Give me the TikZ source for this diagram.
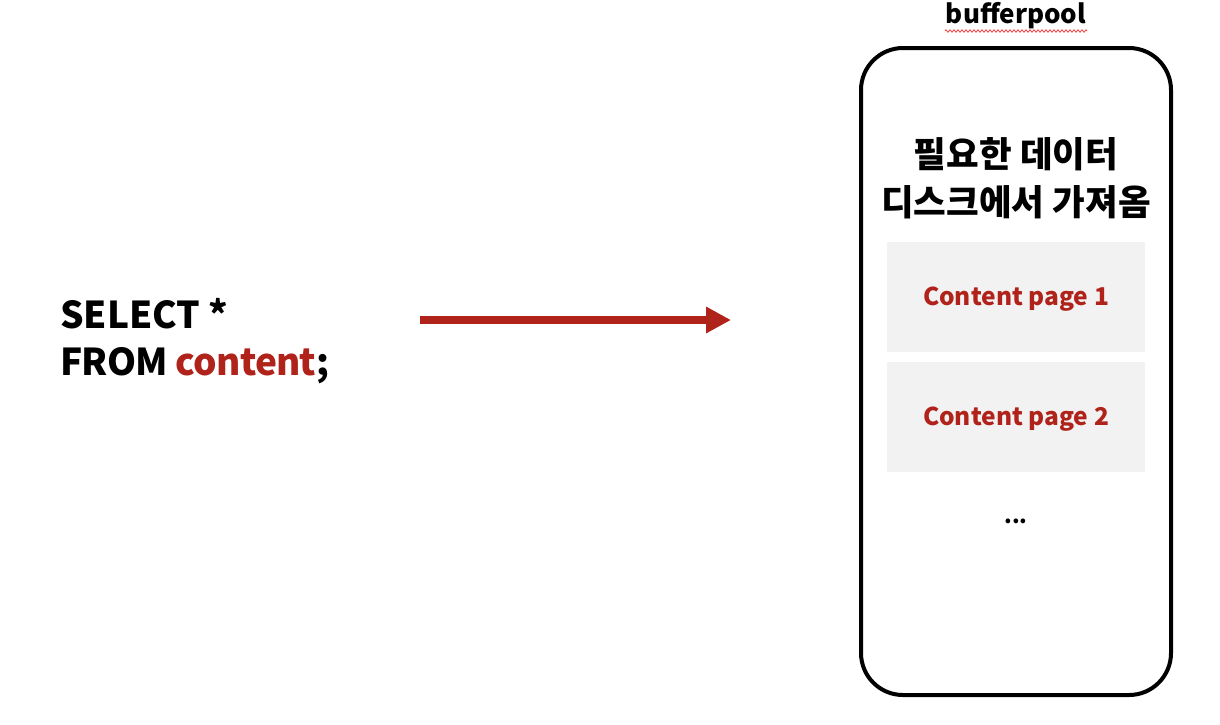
\documentclass[tikz,border=0pt]{standalone}
\usepackage{fontspec}
\setmainfont{Noto Sans CJK KR}
\usetikzlibrary{arrows.meta,decorations.pathmorphing}
\definecolor{accent}{HTML}{B0231A}
\definecolor{pagegray}{HTML}{F2F2F2}
\begin{document}
\begin{tikzpicture}[x=1pt,y=-1pt,
  pagebox/.style={fill=pagegray,draw=none,minimum width=258pt,minimum height=110pt,inner sep=0pt,anchor=north west},
  pagetext/.style={font=\fontsize{24.5}{28}\selectfont\bfseries,text=accent,inner sep=0pt},
  sqltext/.style={anchor=base west,font=\fontsize{37}{46}\selectfont\bfseries,inner sep=0pt}]
\useasboundingbox (0,0) rectangle (1220,724);
% container
\draw[line width=4pt,rounded corners=42pt] (861,48) rectangle (1171,695);
\node[font=\fontsize{26}{30}\selectfont\bfseries,inner sep=0pt] (title) at (1016,16) {bufferpool};
\draw[red!80,line width=0.7pt,decorate,decoration={zigzag,amplitude=1.3pt,segment length=4pt}] (945,31) -- (1087,31);
\node[font=\fontsize{35.5}{48}\selectfont\bfseries,align=center,inner sep=0pt] (desc) at (1016,178) {필요한 데이터\\디스크에서 가져옴};
\node[pagebox] (p1) at (887,242) {};
\node[pagebox] (p2) at (887,362) {};
\node[pagetext] (p1t) at (1016,299) {Content page 1};
\node[pagetext] (p2t) at (1016,419) {Content page 2};
\node[font=\fontsize{22}{26}\selectfont\bfseries,inner sep=0pt] (dots) at (1016,521) {...};
% query
\node[sqltext] (q1) at (60,328) {SELECT *};
\node[sqltext] (q2) at (60,375) {\addfontfeature{LetterSpace=-2}FROM \textcolor{accent}{content};};
\coordinate (a0) at (420,320);
\coordinate (a1) at (731,320);
\draw[accent,line width=8pt,-{Triangle[length=25pt,width=25pt]}] (a0) -- (a1);
\end{tikzpicture}
\end{document}
